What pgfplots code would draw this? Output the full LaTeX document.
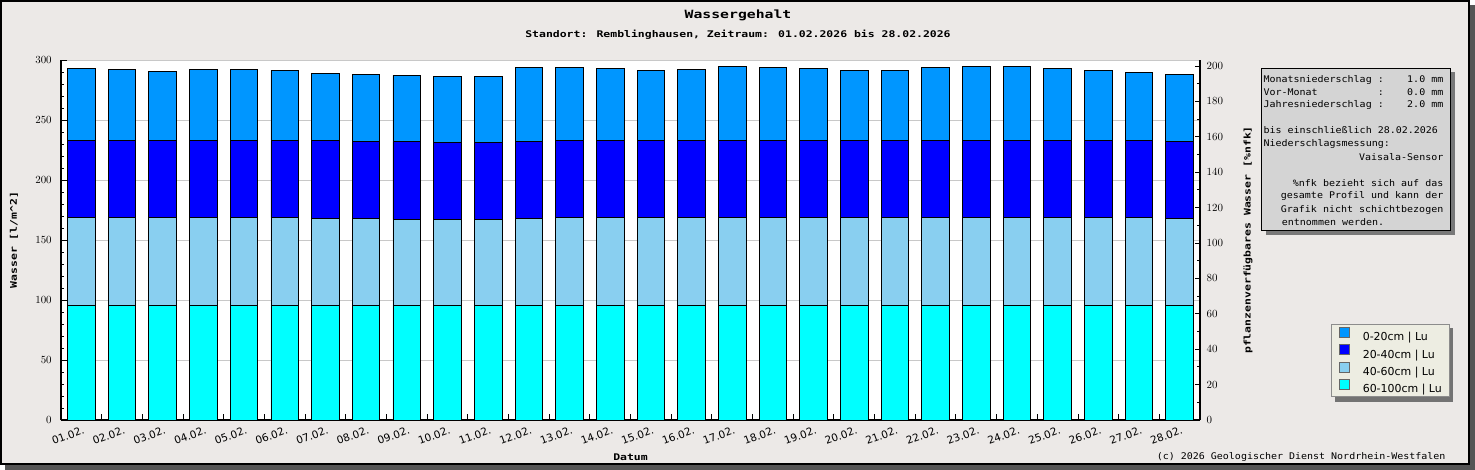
\documentclass[border=0pt]{standalone}
\usepackage{pgfplots}
\usepackage{pgfplotstable}
\pgfplotsset{compat=1.18}
\usepackage{fontspec}
\setmainfont{DejaVu Sans}
\newfontfamily\titlefont[FakeStretch=1.3]{DejaVu Sans Mono}
\newfontfamily\labfont[FakeStretch=1.25]{DejaVu Sans Mono}
\newfontfamily\infofont[FakeStretch=1.09]{DejaVu Sans Mono}
\definecolor{bgc}{RGB}{236,233,231}
\definecolor{shadowc}{RGB}{85,85,85}
\definecolor{cA}{RGB}{0,150,255}
\definecolor{cB}{RGB}{0,0,255}
\definecolor{cC}{RGB}{137,207,240}
\definecolor{cD}{RGB}{0,255,255}
\definecolor{boxc}{RGB}{212,212,212}
\definecolor{boxsh}{RGB}{120,120,120}
\definecolor{legc}{RGB}{237,237,226}
\definecolor{gridc}{RGB}{200,200,200}

\pgfplotstableread{
x l4 l3 l2 l1
1 95.8 72.8 64.5 60.0
2 95.8 72.8 64.5 59.1
3 95.8 72.8 64.5 57.5
4 95.8 72.8 64.5 59.1
5 95.8 72.8 64.5 59.1
6 95.8 72.8 64.5 58.3
7 95.8 72.0 65.3 55.8
8 95.8 72.0 64.4 55.9
9 95.8 71.2 65.2 55.0
10 95.8 71.2 64.4 55.0
11 95.8 71.2 64.4 55.0
12 95.8 72.0 64.4 61.7
13 95.8 72.8 64.5 60.8
14 95.8 72.8 64.5 60.0
15 95.8 72.8 64.5 58.3
16 95.8 72.8 64.5 59.1
17 95.8 72.8 64.5 61.6
18 95.8 72.8 64.5 60.8
19 95.8 72.8 64.5 60.0
20 95.8 72.8 64.5 58.3
21 95.8 72.8 64.5 58.3
22 95.8 72.8 64.5 60.8
23 95.8 72.8 64.5 61.6
24 95.8 72.8 64.5 61.6
25 95.8 72.8 64.5 60.0
26 95.8 72.8 64.5 58.3
27 95.8 72.8 64.5 56.6
28 95.8 72.0 64.4 55.9
}\datatable

\begin{document}
\begin{tikzpicture}
\path[use as bounding box] (0bp,0bp) rectangle (1475bp,470bp);
\fill[shadowc] (5bp,0bp) rectangle (1475bp,465bp);
\filldraw[fill=bgc, draw=black, line width=2bp] (1bp,6bp) rectangle (1469bp,469bp);
% legend shadow
\fill[black!55] (1334.7bp,67.7bp) rectangle (1453.3bp,141.7bp);

\begin{axis}[
  at={(61bp,50bp)}, anchor=south west, scale only axis,
  width=1139bp, height=360bp,
  xmin=0.5, xmax=28.5, ymin=0, ymax=300,
  axis x line*=bottom, axis y line*=left,
  axis line style={line width=1.2bp, -},
  axis background/.style={fill=white},
  ybar stacked, bar width=27.6bp,
  xtick={1.5,2.5,...,27.5}, xticklabels={},
  extra x ticks={1,2,...,28},
  extra x tick labels={01.02.,02.02.,03.02.,04.02.,05.02.,06.02.,07.02.,08.02.,09.02.,10.02.,11.02.,12.02.,13.02.,14.02.,15.02.,16.02.,17.02.,18.02.,19.02.,20.02.,21.02.,22.02.,23.02.,24.02.,25.02.,26.02.,27.02.,28.02.},
  extra x tick style={major tick length=0pt, grid=none,
     xticklabel style={rotate=20, anchor=north east, inner sep=0pt, xshift=-1bp, yshift=-6bp}},
  ytick={0,50,...,300}, minor y tick num=4,
  ymajorgrids, grid style={draw=gridc, line width=0.9bp},
  major tick length=5.5bp, minor tick length=2.5bp,
  tick style={black, line width=0.9bp},
  tick label style={font=\fontsize{10.5}{12}\selectfont},
  yticklabel style={xshift=-5.8bp},
  xlabel={Datum},
  every axis x label/.style={at={(axis description cs:0.5,0)}, anchor=base, yshift=-40.7bp,
     font=\labfont\bfseries\fontsize{9.2}{11}\selectfont},
  ylabel={Wasser [l/m\textasciicircum 2]},
  every axis y label/.style={at={(axis description cs:-0.04126,0.5)}, rotate=90, anchor=center,
     font=\labfont\bfseries\fontsize{9.2}{11}\selectfont},
  reverse legend,
  legend cell align=left,
  legend image code/.code={\draw[#1, draw=black!60, line width=0.6bp] (0bp,-1.2bp) rectangle (10bp,8.8bp);},
  legend style={at={(axis description cs:1.11475,0.26583)}, anchor=north west,
     fill=legc, draw=black!45, line width=1bp,
     inner xsep=7.3bp, inner ysep=2bp, row sep=1.5bp,
     font=\fontsize{11}{13}\selectfont,
     nodes={inner sep=0pt, text height=11.5bp, text depth=2bp},
     /tikz/every odd column/.append style={column sep=13.7bp}},
]
\addplot[fill=cD, draw=black, line width=0.8bp] table[x=x, y=l4] {\datatable};
\addlegendentry{60-100cm | Lu}
\addplot[fill=cC, draw=black, line width=0.8bp] table[x=x, y=l3] {\datatable};
\addlegendentry{40-60cm | Lu}
\addplot[fill=cB, draw=black, line width=0.8bp] table[x=x, y=l2] {\datatable};
\addlegendentry{20-40cm | Lu}
\addplot[fill=cA, draw=black, line width=0.8bp] table[x=x, y=l1] {\datatable};
\addlegendentry{0-20cm | Lu}
\end{axis}

\begin{axis}[
  at={(61bp,50bp)}, anchor=south west, scale only axis,
  width=1139bp, height=360bp,
  xmin=0.5, xmax=28.5, ymin=0, ymax=203.4,
  axis x line=none, axis y line*=right,
  axis line style={line width=1.2bp, -},
  ytick={0,20,...,200}, minor y tick num=1,
  major tick length=5bp, minor tick length=2.8bp,
  tick style={black, line width=0.9bp},
  tick label style={font=\fontsize{10.5}{12}\selectfont},
  yticklabel style={xshift=3.2bp},
  ylabel={pflanzenverfügbares Wasser [\%nfk]},
  every axis y label/.style={at={(axis description cs:1.0421,0.5)}, rotate=90, anchor=center,
     font=\labfont\bfseries\fontsize{9.2}{11}\selectfont},
]
\end{axis}

% titles
\node[anchor=base, inner sep=0pt, font=\titlefont\bfseries\fontsize{11.4}{13}\selectfont] at (738bp,451.7bp) {Wassergehalt};
\node[anchor=base, inner sep=0pt, font=\labfont\bfseries\fontsize{9.2}{11}\selectfont] at (738bp,432.7bp) {Standort: Remblinghausen, Zeitraum: 01.02.2026 bis 28.02.2026};

% info box
\fill[boxsh] (1265.5bp,235.2bp) rectangle (1454.5bp,397.9bp);
\filldraw[fill=boxc, draw=black, line width=1bp] (1261.7bp,239bp) rectangle (1450.7bp,401.7bp);
\begin{scope}[every node/.style={inner sep=0pt, font=\infofont\fontsize{9.2}{11}\selectfont}]
\node[anchor=base west] at (1263.3bp,387.7bp) {Monatsniederschlag};
\node[anchor=base west] at (1377.7bp,387.7bp) {:};
\node[anchor=base east] at (1443.5bp,387.7bp) {1.0 mm};
\node[anchor=base west] at (1263.3bp,374.7bp) {Vor-Monat};
\node[anchor=base west] at (1377.7bp,374.7bp) {:};
\node[anchor=base east] at (1443.5bp,374.7bp) {0.0 mm};
\node[anchor=base west] at (1263.3bp,362bp) {Jahresniederschlag};
\node[anchor=base west] at (1377.7bp,362bp) {:};
\node[anchor=base east] at (1443.5bp,362bp) {2.0 mm};
\node[anchor=base west] at (1263.3bp,336bp) {bis einschließlich 28.02.2026};
\node[anchor=base west] at (1263.3bp,323bp) {Niederschlagsmessung:};
\node[anchor=base east] at (1443.5bp,309.7bp) {Vaisala-Sensor};
\node[anchor=base east] at (1443.5bp,283.7bp) {\%nfk bezieht sich auf das};
\node[anchor=base east] at (1443.5bp,271bp) {gesamte Profil und kann der};
\node[anchor=base east] at (1443.5bp,257.7bp) {Grafik nicht schichtbezogen};
\node[anchor=base west] at (1281.7bp,244.7bp) {entnommen werden.};
\node[anchor=base east] at (1445.7bp,11bp) {(c) 2026 Geologischer Dienst Nordrhein-Westfalen};
\end{scope}
\end{tikzpicture}
\end{document}
